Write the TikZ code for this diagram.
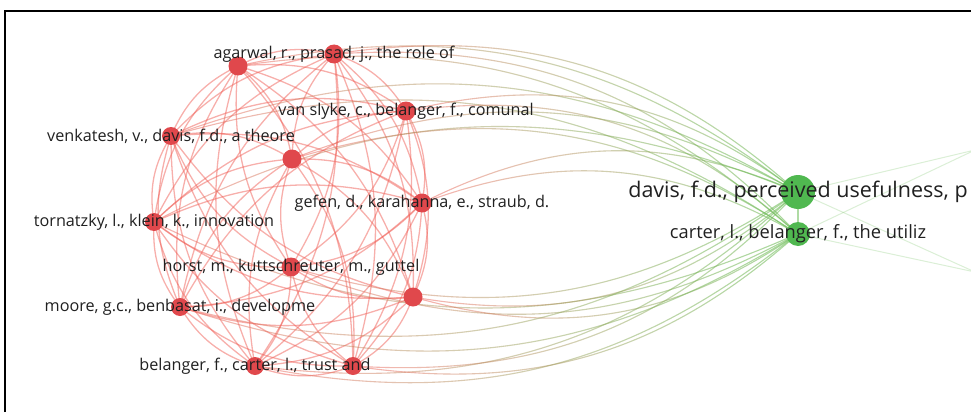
\documentclass[tikz,border=0pt]{standalone}
\usepackage{fontspec}
\setmainfont{Open Sans}
\usetikzlibrary{fadings}
\definecolor{nred}{RGB}{224,72,76}
\definecolor{ered}{RGB}{240,96,88}
\definecolor{ngreen}{RGB}{80,184,80}
\definecolor{egreen}{RGB}{110,190,90}
\definecolor{labc}{RGB}{32,32,32}
\tikzfading[name=fadeoutright, left color=transparent!0, right color=transparent!100]
\tikzfading[name=fadeoutleft, left color=transparent!100, right color=transparent!0]
\pgfdeclarelayer{edges}
\pgfdeclarelayer{labels}
\pgfsetlayers{edges,main,labels}
\newcommand\defpos[3]{\expandafter\def\csname vx#1\endcsname{#2}\expandafter\def\csname vy#1\endcsname{#3}}
\newcommand\bendfor[5]{%
 \pgfmathsetmacro\dotv{((\csname vy#2\endcsname-\csname vy#1\endcsname)/100)*((\csname vx#1\endcsname+\csname vx#2\endcsname)/200-#3/100)-((\csname vx#2\endcsname-\csname vx#1\endcsname)/100)*((\csname vy#1\endcsname+\csname vy#2\endcsname)/200-#4/100)}%
 \pgfmathsetmacro\bang{\dotv>0 ? #5 : -#5}%
}
\newcommand\vnode[5]{\defpos{#1}{#2}{#3}\node[#5, minimum size=#4] (#1) at (#2,#3) {};}
\begin{document}
\begin{tikzpicture}[x=1pt,y=-1pt,
 rn/.style={circle, fill=nred, inner sep=0pt, draw=none},
 gn/.style={circle, fill=ngreen, inner sep=0pt, draw=none},
 lab/.style={text=labc, font=\fontsize{16.2}{17}\selectfont, inner sep=0pt},
 redge/.style={draw=ered, draw opacity=0.5, line width=1.3pt},
 xred/.style={draw=ered, draw opacity=0.5, line width=1.1pt, path fading=fadeoutright},
 xgreen/.style={draw=egreen, draw opacity=0.6, line width=1.1pt, path fading=fadeoutleft},
 gedge/.style={draw=egreen, draw opacity=0.55, line width=1.1pt},
 fedge/.style={draw=egreen, draw opacity=0.25, line width=1pt}]
\useasboundingbox (0,0) rectangle (971,412);
% nodes
\vnode{A}{238}{66}{19pt}{rn}
\vnode{P}{334}{54}{19pt}{rn}
\vnode{V}{171}{136}{18pt}{rn}
\vnode{S}{406}{111}{19pt}{rn}
\vnode{Ua}{292}{159}{19pt}{rn}
\vnode{G}{422}{203}{19pt}{rn}
\vnode{T}{154}{222}{18pt}{rn}
\vnode{H}{291}{267}{19pt}{rn}
\vnode{Ub}{413}{297}{19pt}{rn}
\vnode{M}{180}{307}{18pt}{rn}
\vnode{B}{255}{366}{18pt}{rn}
\vnode{Uc}{353}{366}{18pt}{rn}
\vnode{D}{798}{192}{34pt}{gn}
\vnode{C}{798}{234}{24pt}{gn}
\coordinate (R1) at (975,150);
\coordinate (R2) at (975,272);
% labels
\begin{pgfonlayer}{labels}
\node[lab] (lP) at (P) {agarwal, r., prasad, j., the role of};
\node[lab] (lV) at (V) {venkatesh, v., davis, f.d., a theore};
\node[lab] (lS) at (S) {van slyke, c., belanger, f., comunal};
\node[lab] (lG) at (G) {gefen, d., karahanna, e., straub, d.};
\node[lab] (lT) at (T) {tornatzky, l., klein, k., innovation};
\node[lab] (lH) at (H) {horst, m., kuttschreuter, m., guttel};
\node[lab] (lM) at (M) {moore, g.c., benbasat, i., developme};
\node[lab] (lB) at (B) {belanger, f., carter, l., trust and};
\node[lab, font=\fontsize{21.5}{22}\selectfont] (lD) at (D) {davis, f.d., perceived usefulness, p};
\node[lab, font=\fontsize{18.3}{19}\selectfont] (lC) at (C) {carter, l., belanger, f., the utiliz};
\end{pgfonlayer}
% edges
\begin{pgfonlayer}{edges}
\foreach \a [count=\i] in {A,P,V,S,Ua,G,T,H,Ub,M,B,Uc}{
  \foreach \b [count=\j] in {A,P,V,S,Ua,G,T,H,Ub,M,B,Uc}{
    \ifnum\j>\i
      \bendfor{\a}{\b}{292}{213}{20}
      \draw[redge] (\a.center) to[bend left=\bang] (\b.center);
    \fi
  }
  \foreach \g in {D,C}{
    \bendfor{\a}{\g}{540}{213}{25}
    \draw[xred] (\a.center) to[bend left=\bang] (\g.center);
    \draw[xgreen] (\a.center) to[bend left=\bang] (\g.center);
  }
}
\draw[gedge] (D.center) -- (C.center);
\draw[fedge] (D.center) -- (R1);
\draw[fedge] (C.center) -- (R1);
\draw[fedge] (D.center) -- (R2);
\draw[fedge] (C.center) -- (R2);
\end{pgfonlayer}
% frame
\draw[line width=2pt, black] (5,412) -- (5,11) -- (972,11);
\end{tikzpicture}
\end{document}
